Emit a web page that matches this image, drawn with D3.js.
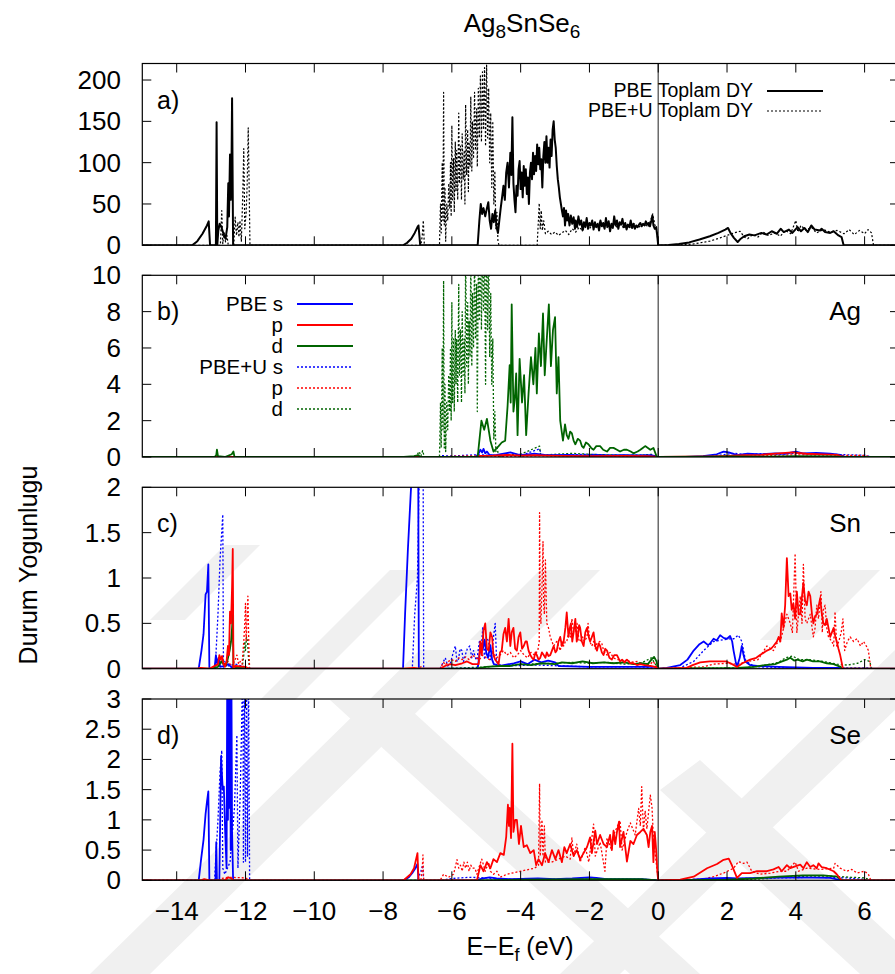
<!DOCTYPE html>
<html><head><meta charset="utf-8">
<script src="https://cdn.jsdelivr.net/npm/d3@7"></script>
<style>
body{margin:0;background:#fff}
text{font-family:"Liberation Sans",Arial,Helvetica,sans-serif;fill:#000}
</style>
</head><body>
<svg id="c" width="895" height="974"></svg>
<script>
// ---------------- DATA ----------------
const xTicks = [-14,-12,-10,-8,-6,-4,-2,0,2,4,6];
const yTicksA = [0,50,100,150,200];
const yTicksB = [0,2,4,6,8,10];
const yTicksC = [0,0.5,1,1.5,2];
const yTicksD = [0,0.5,1,1.5,2,2.5,3];
const panelTags = ["a)","b)","c)","d)"];
const elementNames = ["","Ag","Sn","Se"];
const legendA = ["PBE Toplam DY","PBE+U Toplam DY"];
const legendB = ["PBE s","p","d","PBE+U s","p","d"];

// a) total DOS, PBE (solid)
const aPBE = [[-15,0],[-13.55,0],[-13.4,5],[-13.25,14],[-13.12,24],[-13.07,29],[-13.03,0],[-12.86,0],[-12.84,149],[-12.82,0],[-12.79,18],[-12.75,26],[-12.7,22],[-12.64,14],[-12.58,8],[-12.53,22],[-12.5,75],[-12.48,35],[-12.45,110],[-12.43,55],[-12.41,80],[-12.39,178],[-12.36,0],
[-7.42,0],[-7.3,3],[-7.18,8],[-7.08,15],[-7.0,22],[-6.97,24],[-6.92,0],
[-5.25,0],[-5.2,30],[-5.16,50],[-5.12,38],[-5.08,45],[-5.03,35],[-4.98,45],[-4.94,52],[-4.9,30],[-4.86,20],[-4.82,38],[-4.78,28],[-4.74,42],[-4.7,22],[-4.66,15],[-4.62,30],[-4.58,45],[-4.54,58],[-4.5,72],[-4.46,55],[-4.42,88],[-4.38,100],[-4.34,70],[-4.3,112],[-4.27,85],[-4.24,155],[-4.21,75],[-4.18,55],[-4.15,40],[-4.12,72],[-4.09,60],[-4.06,92],[-4.03,102],[-4.0,68],[-3.97,88],[-3.94,58],[-3.91,96],[-3.88,72],[-3.85,92],[-3.82,62],[-3.79,82],[-3.76,50],[-3.73,88],[-3.7,100],[-3.67,80],[-3.64,112],[-3.61,86],[-3.58,108],[-3.55,90],[-3.52,122],[-3.49,98],[-3.46,118],[-3.43,92],[-3.4,104],[-3.37,70],[-3.34,108],[-3.31,125],[-3.28,100],[-3.25,132],[-3.22,100],[-3.19,118],[-3.16,94],[-3.13,128],[-3.1,108],[-3.07,140],[-3.04,150],[-3.01,128],[-2.98,118],[-2.95,96],[-2.92,80],[-2.89,70],[-2.86,58],[-2.83,50],[-2.8,42],[-2.77,35],[-2.74,45],[-2.71,24],[-2.68,42],[-2.65,30],[-2.62,38],[-2.58,24],[-2.54,36],[-2.5,26],[-2.46,34],[-2.42,20],
[-2.4,30],[-2.36,22],[-2.32,35],[-2.28,25],[-2.24,30],[-2.2,18],[-2.16,28],[-2.12,22],[-2.08,33],[-2.04,20],[-2.0,27],[-1.96,24],[-1.92,30],[-1.88,19],[-1.84,28],[-1.8,22],[-1.76,26],[-1.72,18],[-1.68,30],[-1.64,23],[-1.6,27],[-1.56,20],[-1.52,33],[-1.48,22],[-1.44,29],[-1.4,17],[-1.36,26],[-1.32,21],[-1.28,35],[-1.24,24],[-1.2,30],[-1.16,20],[-1.12,28],[-1.08,25],[-1.04,32],[-1.0,22],[-0.96,27],[-0.92,19],[-0.88,25],[-0.84,22],[-0.8,30],[-0.76,21],[-0.72,26],[-0.68,20],[-0.64,24],[-0.6,22],[-0.56,25],[-0.52,27],[-0.48,23],[-0.44,26],[-0.4,24],[-0.36,29],[-0.32,25],[-0.28,27],[-0.24,23],[-0.2,30],[-0.17,36],[-0.14,24],[-0.1,20],[-0.06,22],[-0.03,12],[0,0],
[0.3,0.5],[0.6,1.5],[0.9,3.5],[1.2,7],[1.5,11],[1.75,15],[1.95,19],[2.03,21],[2.1,15],[2.2,9],[2.31,4],[2.4,8],[2.5,11],[2.65,13],[2.8,12],[3.0,15],[3.15,13],[3.3,17],[3.45,14],[3.56,20],[3.65,16],[3.8,19],[3.9,15],[4.05,22],[4.15,17],[4.25,21],[4.35,16],[4.45,24],[4.55,19],[4.7,18],[4.75,20],[4.85,16],[5.0,15],[5.1,17],[5.24,12],[5.33,10],[5.39,0],[7,0]];

// a) total DOS, PBE+U (dotted)
const aPBEU = [[-15,0],[-12.73,0],[-12.69,42],[-12.66,2],[-12.62,15],[-12.58,4],[-12.54,12],[-12.5,0],[-12.34,0],[-12.3,34],[-12.26,12],[-12.22,28],[-12.19,10],[-12.16,30],[-12.12,5],[-12.08,60],[-12.05,117],[-12.02,20],[-11.98,40],[-11.95,75],[-11.92,142],[-11.89,60],[-11.87,0],
[-6.9,0],[-6.86,12],[-6.83,30],[-6.8,0],
[-6.36,0],[-6.33,50],[-6.31,15],[-6.28,100],[-6.26,30],[-6.24,185],[-6.22,25],[-6.2,70],[-6.18,5],[-6.15,50],[-6.12,30],[-6.09,75],[-6.06,45],[-6.04,100],[-6.02,35],[-6.0,145],[-5.98,55],[-5.95,105],[-5.93,40],[-5.9,125],[-5.88,65],[-5.86,115],[-5.83,55],[-5.8,160],[-5.78,75],[-5.75,120],[-5.72,55],[-5.7,135],[-5.67,80],[-5.64,115],[-5.62,50],[-5.6,170],[-5.57,85],[-5.54,140],[-5.52,65],[-5.5,125],[-5.47,95],[-5.45,180],[-5.42,90],[-5.4,150],[-5.37,105],[-5.34,185],[-5.31,115],[-5.28,165],[-5.26,95],[-5.23,190],[-5.2,130],[-5.17,205],[-5.14,125],[-5.11,210],[-5.08,140],[-5.05,215],[-5.02,120],[-4.99,218],[-4.96,130],[-4.93,190],[-4.9,100],[-4.87,160],[-4.84,70],[-4.81,150],[-4.78,50],[-4.75,90],[-4.72,20],[-4.69,40],[-4.66,5],[-4.63,0],
[-3.52,0],[-3.49,25],[-3.46,51],[-3.43,20],[-3.4,42],[-3.37,18],[-3.33,30],[-3.28,14],[-3.2,17],[-3.1,13],[-3.0,16],[-2.9,12],[-2.8,15],[-2.7,18],[-2.6,13],[-2.5,20],[-2.4,16],[-2.3,22],[-2.2,18],[-2.1,25],[-2.0,20],[-1.9,26],[-1.8,21],[-1.7,28],[-1.6,22],[-1.5,25],[-1.4,20],[-1.3,27],[-1.2,22],[-1.1,28],[-1.0,20],[-0.9,25],[-0.8,22],[-0.7,26],[-0.6,21],[-0.5,24],[-0.4,26],[-0.3,22],[-0.22,30],[-0.16,38],[-0.1,25],[-0.04,18],[0,0],
[0.5,0.3],[1.0,1.5],[1.5,5],[1.8,9],[2.0,12],[2.2,15],[2.38,17],[2.5,10],[2.6,8],[2.75,13],[2.9,10],[3.05,16],[3.2,12],[3.4,15],[3.55,11],[3.7,18],[3.85,14],[4.0,30],[4.06,16],[4.15,24],[4.3,18],[4.45,22],[4.6,15],[4.8,19],[5.0,16],[5.2,18],[5.4,14],[5.55,19],[5.7,13],[5.85,18],[6.0,14],[6.1,19],[6.2,15],[6.26,0],[7,0]];

// b) Ag
const bPBE_s = [[-15,0],[-5.3,0],[-5.22,0.2],[-5.17,0.4],[-5.12,0.25],[-5.08,0.45],[-5.03,0.2],[-4.98,0.3],[-4.9,0.1],[-4.7,0.12],[-4.45,0.2],[-4.3,0.25],[-4.1,0.15],[-3.9,0.12],[-3.6,0.18],[-3.3,0.12],[-3.0,0.1],[-2.6,0.12],[-2.2,0.08],[-1.8,0.1],[-1.4,0.08],[-1.0,0.1],[-0.6,0.08],[-0.2,0.1],[0,0],[0.8,0.01],[1.3,0.05],[1.7,0.15],[1.9,0.3],[2.05,0.25],[2.3,0.1],[2.6,0.18],[3.0,0.15],[3.4,0.2],[3.7,0.18],[4.0,0.3],[4.2,0.2],[4.6,0.22],[5.0,0.18],[5.3,0.12],[5.4,0],[7,0]];
const bPBE_p = [[-15,0],[-5.3,0],[-5.2,0.06],[-4.8,0.08],[-4.4,0.12],[-4.0,0.08],[-3.6,0.1],[-3.2,0.08],[-2.8,0.06],[-2.0,0.05],[-1.0,0.06],[-0.3,0.05],[0,0],[1.5,0.03],[2.0,0.06],[2.5,0.1],[3.0,0.12],[3.5,0.2],[3.9,0.25],[4.3,0.18],[4.8,0.15],[5.2,0.12],[5.4,0],[7,0]];
const bPBE_d = [[-15,0],[-12.9,0],[-12.85,0.1],[-12.83,0.4],[-12.8,0.05],[-12.6,0],[-12.4,0.15],[-12.35,0.3],[-12.32,0],[-7.4,0],[-7.1,0.05],[-6.97,0.1],[-6.92,0],
[-5.25,0],[-5.14,2.0],[-5.06,1.5],[-4.98,2.1],[-4.88,0.9],[-4.79,0.3],[-4.64,0.6],[-4.55,0.8],[-4.45,0.9],[-4.38,2.8],[-4.32,5.05],[-4.29,3.0],[-4.26,8.4],[-4.21,2.5],[-4.17,3.2],[-4.13,4.6],[-4.09,1.2],[-4.03,5.4],[-3.96,3.0],[-3.9,4.5],[-3.84,1.2],[-3.77,3.5],[-3.7,5.5],[-3.63,4.0],[-3.57,6.0],[-3.53,3.5],[-3.47,6.8],[-3.41,5.0],[-3.35,7.9],[-3.3,4.5],[-3.24,6.5],[-3.18,8.4],[-3.12,5.0],[-3.06,7.0],[-3.0,7.7],[-2.95,3.5],[-2.9,5.5],[-2.85,2.0],[-2.77,0.9],[-2.71,1.8],[-2.66,1.2],[-2.61,1.0],[-2.56,1.4],[-2.51,1.3],[-2.46,0.9],[-2.41,0.7],[-2.34,1.0],[-2.27,0.9],[-2.22,0.6],[-2.17,0.5],[-2.1,0.8],[-2.03,0.7],[-1.95,0.5],[-1.88,0.4],[-1.8,0.6],[-1.69,0.6],[-1.6,0.4],[-1.49,0.3],[-1.4,0.5],[-1.3,0.5],[-1.2,0.4],[-1.11,0.3],[-1.0,0.4],[-0.91,0.4],[-0.8,0.3],[-0.72,0.2],[-0.6,0.3],[-0.52,0.4],[-0.45,0.5],[-0.38,0.6],[-0.3,0.5],[-0.23,0.4],[-0.14,0.5],[-0.04,0],[0,0],[1.5,0.02],[2.0,0.03],[3,0.02],[4,0.04],[5,0.03],[5.4,0],[7,0]];
const bPBEU_s = [[-15,0],[-6.4,0],[-6.3,0.08],[-6.0,0.05],[-5.6,0.1],[-5.2,0.12],[-4.9,0.1],[-4.6,0.05],[-4.0,0.08],[-3.45,0.45],[-3.4,0.1],[-3.0,0.1],[-2.5,0.12],[-2.0,0.15],[-1.5,0.12],[-1.0,0.1],[-0.5,0.12],[-0.2,0.08],[0,0],[1.2,0.02],[1.8,0.1],[2.2,0.2],[2.5,0.15],[3.0,0.18],[3.5,0.15],[4.0,0.2],[4.5,0.18],[5.0,0.15],[5.5,0.12],[6.0,0.1],[6.2,0],[7,0]];
const bPBEU_p = [[-15,0],[-6.4,0],[-6.0,0.04],[-5.5,0.06],[-5.0,0.05],[-4.5,0.04],[-3.5,0.06],[-2.5,0.05],[-1.5,0.04],[-0.5,0.04],[0,0],[2.0,0.04],[3.0,0.08],[4.0,0.12],[5.0,0.1],[6.0,0.08],[6.2,0],[7,0]];
const bPBEU_d = [[-15,0],[-7.1,0],[-7.0,0.15],[-6.95,0.3],[-6.9,0.05],[-6.85,0.35],[-6.8,0],
[-6.36,0],[-6.33,3.0],[-6.31,0.5],[-6.28,6.0],[-6.26,1.5],[-6.24,9.7],[-6.22,0.5],[-6.2,4.0],[-6.18,0.3],[-6.15,3.0],[-6.12,1.5],[-6.09,4.5],[-6.06,2.5],[-6.04,6.0],[-6.02,2.0],[-6.0,8.5],[-5.98,3.0],[-5.95,6.5],[-5.93,2.5],[-5.9,7.0],[-5.88,4.0],[-5.86,6.5],[-5.83,3.0],[-5.8,9.5],[-5.78,4.5],[-5.75,7.0],[-5.72,3.0],[-5.7,8.0],[-5.67,4.5],[-5.64,6.5],[-5.62,3.5],[-5.6,11],[-5.57,5],[-5.54,8.5],[-5.52,4],[-5.5,7.5],[-5.47,5.5],[-5.45,11],[-5.42,5],[-5.4,9],[-5.37,6],[-5.34,11],[-5.31,6.5],[-5.28,9.5],[-5.26,2.5],[-5.23,11],[-5.2,7.5],[-5.17,12],[-5.14,7],[-5.11,12],[-5.08,8],[-5.05,12],[-5.02,4],[-4.99,12],[-4.96,7],[-4.93,11],[-4.9,5.5],[-4.87,9],[-4.84,4],[-4.81,6.5],[-4.78,1],[-4.75,2.5],[-4.72,0.3],[-4.68,0.5],[-4.64,0],
[-4.5,0.1],[-4.0,0.15],[-3.45,0.6],[-3.42,0.1],[-3.0,0.15],[-2.5,0.2],[-2.0,0.15],[-1.5,0.12],[-1.0,0.1],[-0.5,0.1],[-0.2,0.15],[0,0],[3,0.02],[5,0.03],[6.2,0],[7,0]];

// c) Sn
const cPBE_s = [[-15,0],[-13.36,0],[-13.28,0.2],[-13.22,0.38],[-13.16,0.82],[-13.12,0.85],[-13.08,1.15],[-13.05,0],[-12.9,0],[-12.86,0.15],[-12.82,0.05],[-12.78,0.12],[-12.74,0.02],[-12.6,0.03],[-12.5,0.05],[-12.42,0.02],[-12.3,0],
[-7.42,0],[-7.36,0.6],[-7.28,1.3],[-7.2,1.9],[-7.13,2.4],[-7.06,3.5],[-7.02,3.0],[-6.98,2.5],[-6.96,0],
[-5.25,0],[-5.2,0.15],[-5.15,0.28],[-5.1,0.22],[-5.05,0.32],[-5.0,0.18],[-4.95,0.12],[-4.88,0.26],[-4.83,0.1],[-4.78,0.05],[-4.6,0.03],[-4.2,0.06],[-4.0,0.08],[-3.8,0.05],[-3.6,0.1],[-3.4,0.07],[-3.2,0.09],[-3.0,0.07],[-2.9,0.03],[-2.0,0.02],[-1.0,0.02],[-0.1,0.02],[0,0],
[0.25,0.01],[0.64,0.04],[0.85,0.1],[1.03,0.2],[1.2,0.27],[1.32,0.3],[1.45,0.26],[1.51,0.28],[1.61,0.33],[1.7,0.31],[1.8,0.37],[1.9,0.34],[2.0,0.33],[2.09,0.36],[2.15,0.3],[2.19,0.2],[2.25,0.08],[2.29,0.02],[2.37,0.12],[2.43,0.25],[2.48,0.15],[2.53,0.08],[2.67,0.04],[2.87,0.03],[3.5,0.02],[4.5,0.01],[5.39,0.01],[5.4,0],[7,0]];
const cPBE_p = [[-15,0],[-13.4,0],[-13.3,0.01],[-13.05,0],[-12.8,0.05],[-12.76,0.15],[-12.72,0.1],[-12.68,0.14],[-12.64,0.05],[-12.6,0.02],[-12.55,0.08],[-12.51,0.25],[-12.48,0.15],[-12.45,0.63],[-12.42,0.5],[-12.39,0.9],[-12.37,1.32],[-12.35,0],[-12.3,0.03],[-12.0,0.02],[-11.9,0],[-7.4,0],[-7.1,0.01],[-6.95,0],
[-6.34,0],[-6.2,0.03],[-6.05,0.05],[-5.9,0.04],[-5.7,0.06],[-5.56,0.08],[-5.4,0.05],[-5.22,0.05],[-5.17,0.3],[-5.13,0.15],[-5.08,0.42],[-5.03,0.5],[-4.98,0.22],[-4.93,0.2],[-4.88,0.4],[-4.83,0.35],[-4.79,0.15],[-4.74,0.1],[-4.64,0.05],[-4.6,0.18],[-4.55,0.2],[-4.5,0.38],[-4.45,0.45],[-4.4,0.3],[-4.35,0.55],[-4.3,0.25],[-4.26,0.4],[-4.21,0.45],[-4.16,0.22],[-4.11,0.2],[-4.06,0.35],[-4.01,0.4],[-3.96,0.22],[-3.91,0.25],[-3.86,0.3],[-3.82,0.3],[-3.77,0.2],[-3.72,0.15],[-3.67,0.12],[-3.62,0.1],[-3.57,0.18],[-3.53,0.15],[-3.48,0.1],[-3.43,0.12],[-3.38,0.18],[-3.33,0.15],[-3.28,0.12],[-3.24,0.18],[-3.19,0.14],[-3.14,0.15],[-3.09,0.2],[-3.04,0.25],[-2.99,0.18],[-2.95,0.2],[-2.9,0.3],[-2.85,0.35],[-2.8,0.25],[-2.75,0.3],[-2.7,0.45],[-2.66,0.62],[-2.61,0.35],[-2.57,0.45],[-2.54,0.5],[-2.5,0.3],[-2.46,0.4],[-2.41,0.55],[-2.37,0.3],[-2.34,0.35],[-2.3,0.48],[-2.27,0.45],[-2.22,0.3],[-2.17,0.25],[-2.12,0.4],[-2.07,0.45],[-2.02,0.35],[-1.98,0.3],[-1.93,0.35],[-1.88,0.4],[-1.83,0.25],[-1.78,0.2],[-1.73,0.28],[-1.69,0.25],[-1.64,0.18],[-1.59,0.15],[-1.54,0.22],[-1.49,0.2],[-1.42,0.12],[-1.35,0.1],[-1.28,0.15],[-1.2,0.15],[-1.11,0.08],[-1.05,0.1],[-0.98,0.07],[-0.91,0.1],[-0.81,0.06],[-0.72,0.06],[-0.62,0.04],[-0.52,0.05],[-0.4,0.04],[-0.23,0.03],[-0.09,0.02],[0,0],
[0.83,0.01],[1.0,0.04],[1.22,0.07],[1.5,0.08],[1.8,0.08],[1.98,0.08],[2.15,0.05],[2.29,0.02],[2.45,0.06],[2.67,0.1],[2.85,0.12],[2.96,0.15],[3.16,0.2],[3.28,0.22],[3.35,0.25],[3.45,0.3],[3.5,0.35],[3.55,0.3],[3.59,0.61],[3.64,0.45],[3.69,0.7],[3.74,1.22],[3.79,0.8],[3.84,0.83],[3.88,0.65],[3.93,0.72],[3.98,0.55],[4.03,0.85],[4.08,0.6],[4.13,0.6],[4.18,0.8],[4.22,0.95],[4.27,0.75],[4.32,0.7],[4.37,0.85],[4.42,0.8],[4.47,0.6],[4.51,0.5],[4.56,0.58],[4.61,0.6],[4.66,0.68],[4.71,0.78],[4.75,0.62],[4.8,0.5],[4.85,0.48],[4.9,0.55],[4.95,0.45],[5.0,0.35],[5.05,0.4],[5.1,0.45],[5.15,0.35],[5.19,0.3],[5.24,0.22],[5.29,0.15],[5.37,0],[7,0]];
const cPBE_d = [[-15,0],[-13.0,0],[-12.8,0.02],[-12.7,0.08],[-12.64,0.05],[-12.58,0.03],[-12.52,0.1],[-12.46,0.2],[-12.42,0.3],[-12.39,0.45],[-12.37,0.6],[-12.35,0],[-12.2,0.02],[-11.9,0],[-5.3,0],[-5.0,0.02],[-4.6,0.03],[-4.3,0.03],[-4.0,0.05],[-3.7,0.04],[-3.4,0.06],[-3.0,0.05],[-2.8,0.07],[-2.5,0.06],[-2.2,0.08],[-1.9,0.06],[-1.6,0.07],[-1.3,0.06],[-1.0,0.07],[-0.7,0.05],[-0.5,0.06],[-0.3,0.05],[-0.2,0.1],[-0.12,0.13],[-0.05,0.08],[0,0],[2.3,0.01],[2.8,0.02],[3.1,0.04],[3.4,0.05],[3.6,0.08],[3.74,0.1],[3.84,0.12],[3.95,0.09],[4.05,0.1],[4.2,0.08],[4.32,0.1],[4.5,0.08],[4.7,0.08],[4.9,0.06],[5.1,0.05],[5.3,0.02],[5.37,0],[7,0]];
const cPBEU_s = [[-15,0],[-12.88,0],[-12.8,0.6],[-12.74,1.2],[-12.66,1.7],[-12.64,0],[-12.6,0.08],[-12.55,0.02],[-12.45,0.04],[-12.3,0.05],[-12.1,0.03],[-12.0,0.02],[-11.9,0],[-7.15,0],[-7.08,0.6],[-7.0,1.0],[-6.95,2.1],[-6.88,3],[-6.84,3],[-6.82,0],
[-6.34,0],[-6.28,0.05],[-6.19,0.12],[-6.12,0.03],[-6.05,0.05],[-5.98,0.15],[-5.9,0.25],[-5.85,0.08],[-5.81,0.1],[-5.76,0.22],[-5.71,0.2],[-5.66,0.08],[-5.61,0.15],[-5.55,0.22],[-5.48,0.25],[-5.42,0.12],[-5.37,0.2],[-5.3,0.1],[-5.27,0.1],[-5.2,0.3],[-5.15,0.18],[-5.1,0.46],[-5.05,0.1],[-5.0,0.35],[-4.93,0.3],[-4.88,0.1],[-4.83,0.18],[-4.79,0.35],[-4.74,0.5],[-4.7,0.1],[-4.67,0.05],[-4.5,0.03],[-3.5,0.04],[-2.0,0.02],[-0.5,0.02],[0,0],
[0.64,0.01],[1.03,0.08],[1.32,0.2],[1.61,0.3],[1.9,0.32],[2.09,0.33],[2.2,0.33],[2.33,0.37],[2.43,0.3],[2.53,0.1],[2.67,0.05],[2.87,0.02],[4,0.01],[6.2,0.01],[6.22,0],[7,0]];
const cPBEU_p = [[-15,0],[-12.9,0],[-12.8,0.05],[-12.7,0.1],[-12.6,0.05],[-12.5,0.08],[-12.4,0.02],[-12.3,0.1],[-12.25,0.15],[-12.2,0.05],[-12.15,0.08],[-12.1,0.05],[-12.05,0.3],[-12.02,0.5],[-12.0,0.72],[-11.98,0.3],[-11.95,0.6],[-11.93,0.8],[-11.9,0.2],[-11.88,0],[-7.0,0],[-6.9,0.02],[-6.8,0],
[-6.34,0],[-6.24,0.07],[-6.19,0.04],[-6.1,0.08],[-6.0,0.1],[-5.9,0.08],[-5.8,0.12],[-5.7,0.1],[-5.6,0.13],[-5.5,0.1],[-5.4,0.15],[-5.3,0.12],[-5.2,0.1],[-5.1,0.15],[-5.0,0.12],[-4.9,0.1],[-4.8,0.18],[-4.7,0.12],[-4.6,0.15],[-4.5,0.2],[-4.4,0.15],[-4.3,0.18],[-4.2,0.12],[-4.1,0.15],[-4.0,0.2],[-3.9,0.15],[-3.8,0.12],[-3.7,0.18],[-3.6,0.15],[-3.5,0.2],[-3.46,0.3],[-3.45,1.72],[-3.43,0.6],[-3.41,0.5],[-3.38,0.9],[-3.35,1.4],[-3.33,0.7],[-3.31,0.6],[-3.28,1.2],[-3.24,0.5],[-3.19,0.45],[-3.14,0.35],[-3.09,0.3],[-3.04,0.25],[-2.99,0.28],[-2.95,0.3],[-2.9,0.25],[-2.85,0.2],[-2.8,0.3],[-2.75,0.25],[-2.7,0.3],[-2.66,0.3],[-2.6,0.4],[-2.55,0.35],[-2.51,0.55],[-2.46,0.4],[-2.41,0.4],[-2.36,0.5],[-2.3,0.3],[-2.27,0.3],[-2.2,0.35],[-2.15,0.3],[-2.07,0.35],[-2.04,0.5],[-1.99,0.3],[-1.93,0.25],[-1.88,0.3],[-1.83,0.22],[-1.78,0.28],[-1.7,0.3],[-1.64,0.28],[-1.59,0.2],[-1.49,0.15],[-1.4,0.18],[-1.3,0.12],[-1.2,0.1],[-1.11,0.1],[-1.0,0.08],[-0.9,0.1],[-0.8,0.07],[-0.6,0.08],[-0.5,0.06],[-0.4,0.05],[-0.23,0.05],[-0.15,0.08],[-0.09,0.05],[0,0],
[1.32,0.02],[1.6,0.05],[2.0,0.06],[2.29,0.05],[2.6,0.08],[2.9,0.1],[3.16,0.25],[3.35,0.2],[3.45,0.28],[3.55,0.3],[3.74,0.6],[3.84,0.5],[3.9,0.4],[3.98,1.27],[4.03,0.4],[4.08,0.6],[4.13,0.8],[4.18,0.5],[4.22,1.15],[4.27,0.55],[4.32,0.5],[4.42,0.6],[4.51,0.35],[4.56,0.45],[4.61,0.7],[4.66,0.55],[4.73,0.85],[4.77,0.4],[4.8,0.65],[4.85,0.7],[4.9,0.45],[4.95,0.35],[5.05,0.3],[5.1,0.25],[5.14,0.63],[5.19,0.25],[5.25,0.3],[5.32,0.4],[5.37,0.55],[5.42,0.2],[5.5,0.3],[5.58,0.35],[5.68,0.3],[5.78,0.33],[5.88,0.25],[5.97,0.3],[6.05,0.25],[6.11,0.2],[6.18,0],[7,0]];
const cPBEU_d = [[-15,0],[-12.1,0],[-12.05,0.15],[-12.02,0.3],[-12.0,0.2],[-11.97,0.35],[-11.94,0.3],[-11.91,0.1],[-11.88,0],[-6.3,0],[-5.0,0.02],[-4.0,0.05],[-3.0,0.06],[-2.5,0.07],[-2.0,0.06],[-1.5,0.07],[-1.0,0.05],[-0.5,0.06],[-0.2,0.12],[-0.1,0.06],[0,0],[2.5,0.01],[3.0,0.03],[3.5,0.07],[3.7,0.12],[3.9,0.14],[4.1,0.1],[4.4,0.1],[4.8,0.08],[5.2,0.05],[5.5,0.04],[5.8,0.06],[6.0,0.1],[6.15,0.08],[6.2,0],[7,0]];

// d) Se
const dPBE_s = [[-15,0],[-13.36,0],[-13.29,0.35],[-13.22,0.67],[-13.16,1.1],[-13.12,1.3],[-13.08,1.47],[-13.05,0],[-12.87,0],[-12.85,0.63],[-12.83,0],[-12.76,0],[-12.73,1.2],[-12.71,2.05],[-12.68,1.7],[-12.66,1.5],[-12.63,1.55],[-12.59,0.8],[-12.55,0.2],[-12.53,3.5],[-12.51,1.0],[-12.49,3.5],[-12.47,1.2],[-12.45,3.5],[-12.43,0.5],[-12.41,3.5],[-12.39,0.8],[-12.36,0],
[-7.4,0],[-7.25,0.05],[-7.15,0.12],[-7.06,0.2],[-7.0,0.27],[-6.97,0],[-5.3,0],[-5.1,0.03],[-4.9,0.05],[-4.7,0.03],[-4.3,0.02],[-3.5,0.03],[-3.0,0.02],[-2.5,0.03],[-2.0,0.05],[-1.8,0.04],[-1.5,0.02],[-1.0,0.02],[-0.5,0.02],[0,0],[1.0,0.01],[1.5,0.03],[2.0,0.04],[2.3,0.03],[3.0,0.04],[4.0,0.05],[5.0,0.04],[5.33,0],[7,0]];
const dPBE_p = [[-15,0],[-13.3,0],[-13.2,0.02],[-13.05,0],[-12.6,0],[-12.5,0.05],[-12.4,0.03],[-12.36,0],[-7.4,0],[-7.3,0.05],[-7.2,0.1],[-7.1,0.2],[-7.06,0.3],[-7.02,0.4],[-7.0,0.45],[-6.97,0],
[-5.27,0],[-5.17,0.25],[-5.08,0.15],[-4.98,0.3],[-4.88,0.2],[-4.79,0.35],[-4.69,0.3],[-4.59,0.45],[-4.49,0.42],[-4.42,0.72],[-4.37,1.25],[-4.34,0.9],[-4.32,1.2],[-4.28,0.7],[-4.24,2.26],[-4.21,0.8],[-4.16,1.0],[-4.11,1.0],[-4.05,0.6],[-3.99,0.9],[-3.91,0.55],[-3.82,0.58],[-3.72,0.45],[-3.62,0.5],[-3.55,0.25],[-3.48,0.35],[-3.43,0.3],[-3.38,0.25],[-3.29,0.45],[-3.19,0.3],[-3.09,0.5],[-2.99,0.35],[-2.9,0.5],[-2.8,0.3],[-2.73,0.55],[-2.66,0.45],[-2.56,0.6],[-2.46,0.4],[-2.37,0.5],[-2.27,0.35],[-2.17,0.45],[-2.07,0.55],[-1.98,0.71],[-1.93,0.45],[-1.83,0.82],[-1.78,0.6],[-1.69,0.75],[-1.59,0.6],[-1.49,0.55],[-1.4,0.75],[-1.35,0.5],[-1.3,0.82],[-1.25,0.6],[-1.2,0.8],[-1.14,0.97],[-1.11,0.55],[-1.01,0.8],[-0.91,0.31],[-0.81,0.65],[-0.72,0.6],[-0.62,0.75],[-0.52,0.8],[-0.43,0.85],[-0.33,0.75],[-0.28,0.55],[-0.23,0.8],[-0.18,0.9],[-0.14,0.3],[-0.1,0.8],[-0.06,0.5],[-0.02,0.1],[0,0],
[0.64,0.01],[1.03,0.06],[1.42,0.2],[1.71,0.27],[1.9,0.34],[2.05,0.36],[2.14,0.25],[2.29,0.04],[2.43,0.12],[2.67,0.12],[2.87,0.15],[3.16,0.15],[3.35,0.18],[3.5,0.22],[3.59,0.15],[3.74,0.25],[3.84,0.2],[3.98,0.23],[4.13,0.26],[4.22,0.2],[4.32,0.3],[4.42,0.22],[4.51,0.25],[4.61,0.2],[4.66,0.28],[4.75,0.22],[4.9,0.2],[5.1,0.15],[5.19,0.1],[5.33,0],[7,0]];
const dPBE_d = [[-15,0],[-5.3,0],[-4.0,0.01],[-2.0,0.02],[-0.5,0.02],[0,0],[2.0,0.01],[2.8,0.03],[3.5,0.06],[4.2,0.08],[4.8,0.08],[5.2,0.06],[5.35,0],[7,0]];
const dPBEU_s = [[-15,0],[-12.9,0],[-12.8,1.0],[-12.74,1.8],[-12.69,2.15],[-12.66,0.2],[-12.6,0.1],[-12.45,0.3],[-12.32,1.2],[-12.25,2.4],[-12.22,0.2],[-12.15,1.5],[-12.08,3.5],[-12.06,0.3],[-12.03,3.5],[-12.0,0.3],[-11.97,3.5],[-11.94,0.4],[-11.91,3.5],[-11.88,0],[-7.0,0],[-6.9,0.15],[-6.85,0.25],[-6.82,0],[-6.3,0],[-6.0,0.03],[-5.5,0.05],[-5.0,0.04],[-4.5,0.02],[-3.5,0.02],[-2.0,0.02],[-0.5,0.02],[0,0],[1.5,0.02],[2.5,0.03],[3.5,0.04],[4.5,0.05],[5.5,0.04],[6.2,0],[7,0]];
const dPBEU_p = [[-15,0],[-12.8,0],[-12.7,0.03],[-12.5,0.05],[-12.0,0.04],[-11.88,0],[-6.9,0],[-6.86,0.2],[-6.84,0.42],[-6.82,0],
[-6.34,0],[-6.24,0.1],[-6.1,0.05],[-5.95,0.1],[-5.85,0.34],[-5.8,0.2],[-5.75,0.25],[-5.7,0.15],[-5.65,0.3],[-5.6,0.2],[-5.55,0.3],[-5.5,0.15],[-5.45,0.25],[-5.4,0.2],[-5.33,0.2],[-5.27,0.1],[-5.22,0.2],[-5.13,0.35],[-5.03,0.15],[-4.93,0.3],[-4.88,0.15],[-4.79,0.1],[-4.69,0.15],[-4.6,0.05],[-4.4,0.1],[-4.0,0.15],[-3.6,0.2],[-3.48,0.25],[-3.45,1.6],[-3.43,0.4],[-3.38,1.0],[-3.35,0.4],[-3.31,0.9],[-3.28,0.3],[-3.1,0.3],[-2.9,0.35],[-2.7,0.4],[-2.56,0.35],[-2.51,0.7],[-2.46,0.4],[-2.37,0.6],[-2.27,0.3],[-2.12,0.55],[-2.02,0.3],[-1.88,0.93],[-1.83,0.4],[-1.69,0.63],[-1.55,0.15],[-1.49,0.7],[-1.35,0.5],[-1.3,0.75],[-1.11,0.99],[-1.05,0.5],[-0.91,0.8],[-0.81,0.95],[-0.67,0.75],[-0.57,1.19],[-0.52,0.9],[-0.48,1.55],[-0.43,0.8],[-0.38,1.15],[-0.33,0.85],[-0.23,1.41],[-0.18,1.2],[-0.14,0.7],[-0.04,0.2],[0,0],
[1.32,0.02],[1.61,0.06],[1.9,0.12],[2.19,0.2],[2.33,0.31],[2.48,0.28],[2.58,0.3],[2.72,0.15],[2.96,0.1],[3.26,0.12],[3.55,0.15],[3.74,0.15],[3.98,0.3],[4.08,0.15],[4.32,0.2],[4.71,0.18],[5.1,0.2],[5.14,0.28],[5.29,0.2],[5.48,0.15],[5.63,0.18],[5.78,0.12],[6.0,0.15],[6.11,0.1],[6.18,0],[7,0]];
const dPBEU_d = [[-15,0],[-5.0,0],[-3.0,0.01],[-1.0,0.02],[0,0],[2.5,0.01],[3.2,0.03],[3.8,0.06],[4.4,0.07],[5.0,0.07],[5.6,0.05],[6.0,0.04],[6.2,0],[7,0]];

// ---------------- DRAWING ----------------
const svg = d3.select("#c");
const x = d3.scaleLinear().domain([-15,7]).range([142.3,899]);
const X0 = x(-15), X1 = x(7);
const COL = {s:"#0000ff", p:"#ff0000", d:"#006400", k:"#000000"};
const DOT = "2,2";

// faint background watermark (light grey diagonal bands)
const wm = svg.append("g").attr("fill","#f0f0f0");
[
 "M150,620 L225,545 L260,545 L185,620 Z",
 "M260,700 L390,570 L425,570 L295,700 Z",
 "M470,640 L540,570 L600,570 L530,640 Z",
 "M760,640 L830,570 L880,570 L810,640 Z",
 "M330,700 L630,974 L700,974 L400,700 Z",
 "M90,974 L420,650 L480,650 L150,974 Z",
 "M560,974 L895,650 L895,710 L620,974 Z",
 "M700,760 L895,940 L895,974 L860,974 L660,790 Z"
].forEach(p=>wm.append("path").attr("d",p));

const panels = [
 {top:63.5, bot:245.3, max:220, ticks:yTicksA, tag:panelTags[0], elem:elementNames[0],
  series:[{d:aPBE,c:COL.k,w:2.0},{d:aPBEU,c:COL.k,w:1.2,dash:DOT}]},
 {top:275.3, bot:457, max:10, ticks:yTicksB, tag:panelTags[1], elem:elementNames[1],
  series:[{d:bPBEU_s,c:COL.s,w:1.3,dash:DOT},{d:bPBEU_p,c:COL.p,w:1.3,dash:DOT},{d:bPBEU_d,c:COL.d,w:1.3,dash:DOT},
          {d:bPBE_s,c:COL.s,w:1.8},{d:bPBE_p,c:COL.p,w:1.8},{d:bPBE_d,c:COL.d,w:1.8}]},
 {top:487.3, bot:668.7, max:2, ticks:yTicksC, tag:panelTags[2], elem:elementNames[2],
  series:[{d:cPBEU_s,c:COL.s,w:1.3,dash:DOT},{d:cPBEU_d,c:COL.d,w:1.3,dash:DOT},{d:cPBEU_p,c:COL.p,w:1.3,dash:DOT},
          {d:cPBE_s,c:COL.s,w:1.8},{d:cPBE_d,c:COL.d,w:1.8},{d:cPBE_p,c:COL.p,w:1.8}]},
 {top:699, bot:880.3, max:3, ticks:yTicksD, tag:panelTags[3], elem:elementNames[3],
  series:[{d:dPBEU_s,c:COL.s,w:1.3,dash:DOT},{d:dPBEU_d,c:COL.d,w:1.3,dash:DOT},{d:dPBEU_p,c:COL.p,w:1.3,dash:DOT},
          {d:dPBE_s,c:COL.s,w:1.8},{d:dPBE_d,c:COL.d,w:1.8},{d:dPBE_p,c:COL.p,w:1.8}]}
];

const fmt = v => String(v).replace("-","\u2212");
const TL = 9;

panels.forEach((P,i)=>{
  const y = d3.scaleLinear().domain([0,P.max]).range([P.bot,P.top]);
  const g = svg.append("g");
  const cid = "clip"+i;
  svg.append("defs").append("clipPath").attr("id",cid)
    .append("rect").attr("x",X0).attr("y",P.top).attr("width",X1-X0).attr("height",P.bot-P.top);

  g.append("line").attr("x1",x(0)).attr("x2",x(0)).attr("y1",P.top).attr("y2",P.bot)
    .attr("stroke","#6a6a6a").attr("stroke-width",1.5);

  const line = d3.line().x(d=>x(d[0])).y(d=>y(d[1]));
  const lg = g.append("g").attr("clip-path",`url(#${cid})`);
  P.series.forEach(s=>{
    lg.append("path").attr("d",line(s.d)).attr("fill","none")
      .attr("stroke",s.c).attr("stroke-width",s.w)
      .attr("stroke-linejoin","round")
      .attr("stroke-dasharray",s.dash||null);
  });

  g.append("rect").attr("x",X0).attr("y",P.top).attr("width",X1-X0).attr("height",P.bot-P.top)
    .attr("fill","none").attr("stroke","#000").attr("stroke-width",1.2);

  P.ticks.forEach(t=>{
    g.append("line").attr("x1",X0).attr("x2",X0+TL).attr("y1",y(t)).attr("y2",y(t)).attr("stroke","#000");
    g.append("line").attr("x1",X1).attr("x2",X1-TL).attr("y1",y(t)).attr("y2",y(t)).attr("stroke","#000");
    g.append("text").attr("x",121).attr("y",y(t)+9).attr("text-anchor","end")
      .attr("font-size",26).text(fmt(t));
  });
  xTicks.forEach(t=>{
    g.append("line").attr("x1",x(t)).attr("x2",x(t)).attr("y1",P.top).attr("y2",P.top+TL).attr("stroke","#000");
    g.append("line").attr("x1",x(t)).attr("x2",x(t)).attr("y1",P.bot).attr("y2",P.bot-TL).attr("stroke","#000");
  });

  g.append("text").attr("x",157).attr("y",P.top+45).attr("font-size",25).text(P.tag);
  if(P.elem) g.append("text").attr("x",861).attr("y",P.top+45).attr("text-anchor","end")
      .attr("font-size",26).text(P.elem);
});

xTicks.forEach(t=>{
  svg.append("text").attr("x",x(t)).attr("y",920).attr("text-anchor","middle")
    .attr("font-size",26).text(fmt(t));
});

// legend a
const la = [{c:COL.k,w:2,dash:null},{c:COL.k,w:1.2,dash:DOT}];
legendA.forEach((t,i)=>{
  const yy = 91 + i*20;
  svg.append("text").attr("x",753).attr("y",yy+6).attr("text-anchor","end").attr("font-size",19.5).text(t);
  svg.append("line").attr("x1",767).attr("x2",823).attr("y1",yy).attr("y2",yy)
    .attr("stroke",la[i].c).attr("stroke-width",la[i].w).attr("stroke-dasharray",la[i].dash);
});
// legend b
const lb = [COL.s,COL.p,COL.d,COL.s,COL.p,COL.d];
legendB.forEach((t,i)=>{
  const yy = 304 + i*21;
  svg.append("text").attr("x",283).attr("y",yy+7).attr("text-anchor","end").attr("font-size",20.5).text(t);
  svg.append("line").attr("x1",297).attr("x2",353).attr("y1",yy).attr("y2",yy)
    .attr("stroke",lb[i]).attr("stroke-width",i<3?1.8:1.3).attr("stroke-dasharray",i<3?null:DOT);
});

// title
const tt = svg.append("text").attr("x",522).attr("y",32).attr("text-anchor","middle").attr("font-size",26);
tt.append("tspan").text("Ag");
tt.append("tspan").attr("font-size",19).attr("dy",6).text("8");
tt.append("tspan").attr("dy",-6).text("SnSe");
tt.append("tspan").attr("font-size",19).attr("dy",6).text("6");

// axis titles
const xl = svg.append("text").attr("x",520).attr("y",955).attr("text-anchor","middle").attr("font-size",25);
xl.append("tspan").text("E\u2212E");
xl.append("tspan").attr("font-size",18).attr("dy",6).text("f");
xl.append("tspan").attr("dy",-6).text(" (eV)");

svg.append("text").attr("transform","translate(37,565) rotate(-90)").attr("text-anchor","middle")
  .attr("font-size",25).text("Durum Yogunlugu");
</script>
</body></html>
